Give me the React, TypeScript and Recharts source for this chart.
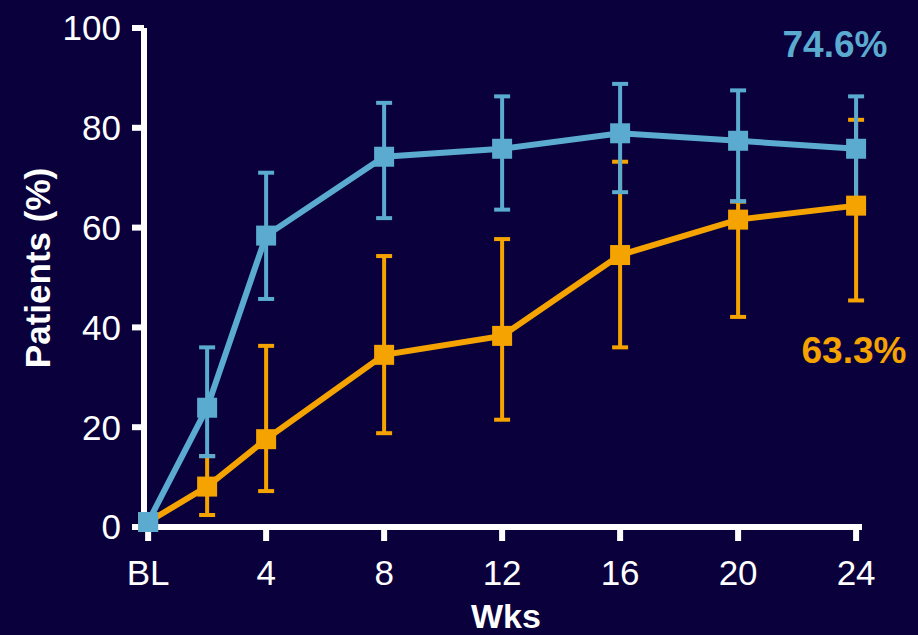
import React from "react";
import { LineChart, Line, XAxis, YAxis, ErrorBar } from "recharts";

// weeks since baseline (0 = BL)
const weeks = [0, 2, 4, 8, 12, 16, 20, 24];
const xTicks = [0, 4, 8, 12, 16, 20, 24];
const yTicks = [0, 20, 40, 60, 80, 100];

// blue arm: mean % and CI bounds
const blueMean = [1, 23.9, 58.4, 74.2, 75.8, 78.9, 77.4, 75.8];
const blueLow = [1, 14.2, 45.7, 61.9, 63.6, 67.1, 65.3, 63.6];
const blueHigh = [1, 36.0, 71.0, 85.0, 86.3, 88.8, 87.5, 86.3];

// orange arm
const orangeMean = [1, 8.1, 17.6, 34.5, 38.3, 54.5, 61.6, 64.4];
const orangeLow = [1, 2.4, 7.2, 18.8, 21.5, 36.0, 42.1, 45.4];
const orangeHigh = [1, 14.2, 36.3, 54.3, 57.7, 73.2, 65.2, 81.6];

const blueLabel = "74.6%";
const orangeLabel = "63.3%";

const BG = "#0a003c";
const BLUE = "#5aabcf";
const ORANGE = "#f5a300";
const FONT = "'Liberation Sans', Arial, sans-serif";

const data = weeks.map((w, i) => ({
  wk: w,
  blue: blueMean[i],
  blueErr: [blueMean[i] - blueLow[i], blueHigh[i] - blueMean[i]],
  orange: orangeMean[i],
  orangeErr: [orangeMean[i] - orangeLow[i], orangeHigh[i] - orangeMean[i]],
}));

const squareDot = (color: string) => (props: any) => {
  const { cx, cy, index } = props;
  if (cx == null || cy == null) return null;
  return <rect key={`sq-${color}-${index}`} x={cx - 10} y={cy - 10} width={20} height={20} fill={color} />;
};

const formatX = (v: number) => (v === 0 ? "BL" : String(v));

export default function App() {
  return (
    <div style={{ position: "absolute", left: 0, top: 0, width: 918, height: 635, background: BG, fontFamily: FONT }}>
      <LineChart width={918} height={635} data={data} margin={{ top: 28, right: 56, bottom: 48, left: 0 }}>
        <XAxis
          dataKey="wk"
          type="number"
          domain={[-0.14, 24.2]}
          ticks={xTicks}
          tickFormatter={formatX}
          stroke="#fff"
          strokeWidth={6}
          axisLine={{ stroke: "#fff", strokeWidth: 6 }}
          tickLine={{ stroke: "#fff", strokeWidth: 6 }}
          tickSize={14}
          tickMargin={19}
          height={60}
          tick={{ fill: "#fff", fontSize: 35, fontFamily: FONT, strokeWidth: 0 }}
        />
        <YAxis
          type="number"
          domain={[0, 100]}
          ticks={yTicks}
          stroke="#fff"
          strokeWidth={6}
          axisLine={{ stroke: "#fff", strokeWidth: 6 }}
          tickLine={{ stroke: "#fff", strokeWidth: 6 }}
          tickSize={12}
          tickMargin={11}
          width={144}
          tick={{ fill: "#fff", fontSize: 35, fontFamily: FONT, strokeWidth: 0 }}
        />
        <Line
          dataKey="orange"
          stroke={ORANGE}
          strokeWidth={6}
          dot={squareDot(ORANGE)}
          activeDot={false}
          isAnimationActive={false}
        >
          <ErrorBar dataKey="orangeErr" direction="y" width={8} stroke={ORANGE} strokeWidth={4} isAnimationActive={false} />
        </Line>
        <Line
          dataKey="blue"
          stroke={BLUE}
          strokeWidth={6}
          dot={squareDot(BLUE)}
          activeDot={false}
          isAnimationActive={false}
        >
          <ErrorBar dataKey="blueErr" direction="y" width={8} stroke={BLUE} strokeWidth={4} isAnimationActive={false} />
        </Line>
        <text x={37} y={268} fill="#fff" fontSize={35} fontWeight="bold" fontFamily={FONT} textAnchor="middle" dominantBaseline="central" transform="rotate(-90 37 268)">
          Patients (%)
        </text>
        <text x={506} y={628} fill="#fff" fontSize={34} fontWeight="bold" fontFamily={FONT} textAnchor="middle">
          Wks
        </text>
        <text x={835} y={57} fill={BLUE} fontSize={37} fontWeight="bold" fontFamily={FONT} textAnchor="middle">
          {blueLabel}
        </text>
        <text x={854} y={363} fill={ORANGE} fontSize={37} fontWeight="bold" fontFamily={FONT} textAnchor="middle">
          {orangeLabel}
        </text>
      </LineChart>
    </div>
  );
}
